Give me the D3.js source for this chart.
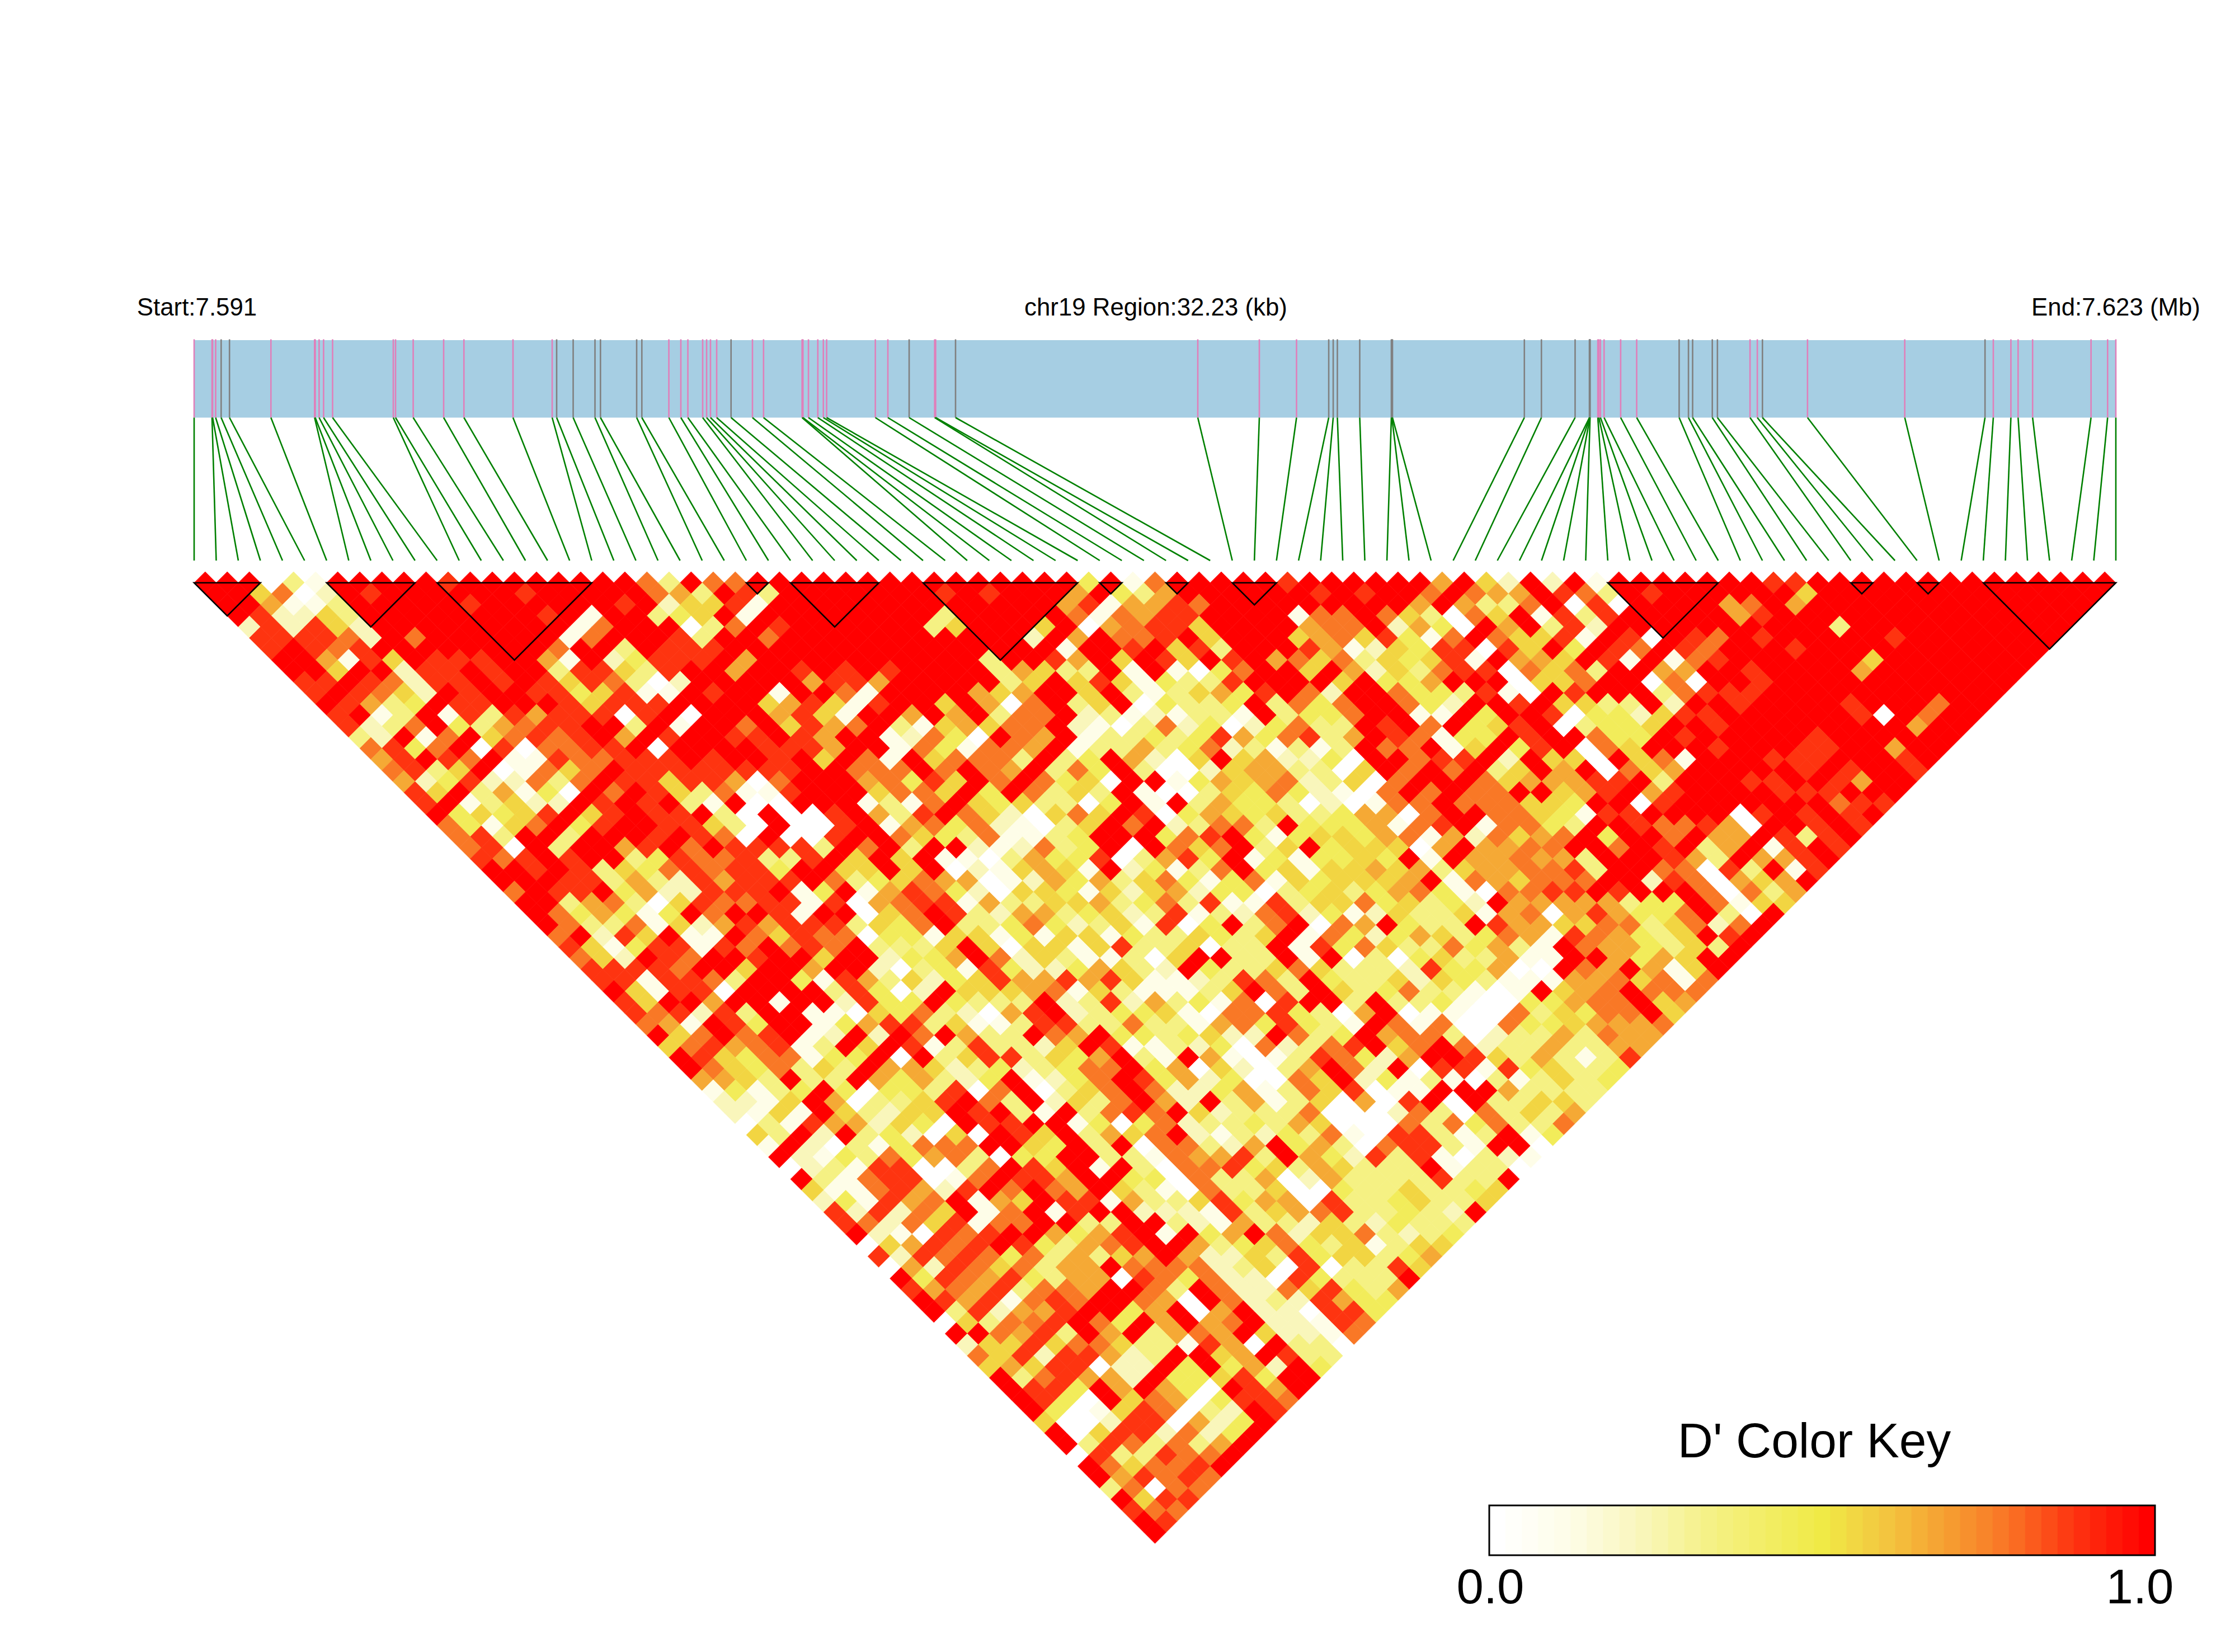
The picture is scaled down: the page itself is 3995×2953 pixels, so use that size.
<!DOCTYPE html>
<html><head><meta charset="utf-8">
<style>html,body{margin:0;padding:0;background:#fff}svg{display:block}text{font-family:"Liberation Sans",Arial,sans-serif;fill:#000}</style>
<script src="https://cdn.jsdelivr.net/npm/d3@7/dist/d3.min.js"></script>
</head><body><svg id="c" width="3995" height="2953"></svg>
<script>
// genomic offsets (kb) of the 88 markers
const markerKb=[0,.3,.31,.361,.453,.593,1.288,2.02,2.031,2.096,2.171,2.322,3.34,3.378,3.674,4.185,4.525,5.348,6.005,6.08,6.357,6.723,6.815,7.422,7.509,7.962,8.163,8.281,8.529,8.595,8.66,8.764,9.005,9.364,9.55,10.196,10.211,10.303,10.46,10.553,10.608,11.425,11.635,11.992,12.42,12.436,12.77,16.833,17.865,18.489,19.029,19.104,19.174,19.549,20.079,20.089,20.098,22.31,22.596,23.161,23.401,23.406,23.41,23.412,23.542,23.56,23.586,23.647,23.925,24.194,24.906,25.062,25.132,25.462,25.548,26.095,26.217,26.303,27.059,28.69,30.036,30.175,30.47,30.591,30.834,31.814,32.092,32.23];
const markerType="pppp"+"gg"+"ppppppppppppp"+"gggggg"+"ppppppp"+"g"+"pppppppppp"+"g"+"pp"+"g"+"ppp"+"gggggggggggggg"+"pppppp"+"ggggg"+"pp"+"g"+"pp"+"g"+"ppppppp";
// D' rows, by marker distance 1..87; digit = D' x 9
const ldRows=[
"9990319999 9899999999 7397799999 9999999999 4917999998 9999996952 9291999999 9889999999 9999999",
"9957029899 9999899999 7639839999 9998989996 9436999999 8989979766 9873989999 9959999999 999999",
"9961139999 9899999989 2558199999 9999999968 1668799999 9999696337 9080999967 9699999999 99999",
"9822539999 9999891993 4591999999 9939999971 7688999917 7975307591 8389999968 9999999999 9999",
"2828529999 9999917999 0379899999 9359995906 7885999967 7926409693 8299999999 9939999999 999",
"8888729799 9999179998 3997999999 9999929697 7895999567 5841797558 1980987989 9999899999 99",
"8987899999 9997993988 8999999999 9999991998 9583999861 2548808594 9879879998 9999999999 9",
"9961859888 9961924888 9699999999 9939986959 8598967573 5458196659 8191789999 9959999999",
"9959928898 9938853899 6998989899 9936533919 1047995962 5378807573 9966998999 969999999",
"8898728898 9858730299 9996886999 9935958514 3389999594 4699905579 9070998999 99999999",
"8987529899 8845811989 9199719999 6569959313 5648972997 4438109899 9378889999 9999999",
"9863498899 9858889999 5685189959 6079359043 3493747997 4299895533 9299899998 999799",
"8913918386 8880890999 6851996969 3779231213 3193447991 1949980442 5889999998 09799",
"8237943678 8993919979 5867931565 7792103724 0247339897 9458903445 9989999999 9699",
"3291795787 8969899889 8699127409 7691334348 6478369871 4498997449 8999998999 999",
"7847908077 8890999988 8699174177 6913363472 3131397791 5948907599 9899988996 99",
"6898791187 7888989989 5971957773 9349620595 6224099788 9295509571 9998889998 9",
"7835901757 9888888889 9777979769 3749300256 6330597979 3596907569 9999898998",
"6248227379 8858860799 9674859797 4509914656 7235079997 5666889399 988998699",
"8593614097 9853711899 9577594973 5391003547 4210797977 9956896899 99888999",
"8913522989 8931900999 1317954533 0491936443 0201779777 5549908999 9999788",
"9454589589 8893090089 6389752057 5980465453 3466079977 5418899990 898989",
"7415794899 8853090089 1674721035 9792377394 4461789177 4399877860 99898",
"7839939998 9870900899 7543711349 9947894145 5467162756 7949979669 8389",
"7809399689 7988883979 3992127349 0975793594 5550696677 9979893691 898",
"8789899348 7783389595 9110364480 3684914144 5491966766 3999863966 89",
"9989835478 7884995595 9021565192 4137945155 6563566778 3997708391 8",
"9998836328 6888973457 6601264635 7414715455 5691765777 9928706569",
"7988946228 8891491687 4205541525 6244034534 6741077889 899970736",
"9936730587 7881806788 1633556347 3811835574 5342966666 34497155",
"9746414979 9819905798 3266345238 1327824125 3351670686 4479309",
"9733715268 6888354793 3474235180 4937907694 3398665577 357279",
"7928591197 5877044155 1415514335 4359174246 5347618764 35989",
"8514881879 7879333595 0551583350 3391847533 7463197664 3539",
"7529879989 9599244697 2531130599 3391903045 3361199646 599",
"8888799599 6992034184 2246532943 3575333284 4600976961 59",
"8818873994 1863524586 6868511238 7394335254 3111667571 7",
"9518809999 3840295556 7153111359 7395347331 0195679777",
"8599699199 2844943339 2382634170 8993933410 044677956",
"8782839911 0547320689 2344510778 4306901100 73547795",
"7619849914 6883511388 3373316748 4319717007 4456667",
"9579789129 2979633976 9443452297 3496773023 363766",
"5786781395 9813833259 8113240723 7895797233 63366",
"9854771449 0935883546 9319610138 7426998536 3138",
"9754735396 6523423477 9460520369 7290881845 334",
"6653933964 6324912479 8462400759 2413103135 34",
"1413494044 3807903579 7224613758 0119996333 3",
"2215960335 8973925379 6293613506 0890933553",
"2151953255 9893193787 9523337000 273073536",
"0318662540 9889914047 2334365000 73747337",
"5392934205 0985936579 2132437108 8313914",
"1920314777 9954939077 3269463078 831990",
"9214374673 0449933176 6839642838 10321",
"0231880037 9859193077 8453653339 1330",
"9317880179 8869944073 3602633338 339",
"5117862897 9769531073 3500433533 45",
"2418679165 9881633584 6608334533 5",
"8282759179 1899222183 5678334329",
"8727581779 9339932163 325324333",
"9210878996 4689194697 25573234",
"0568789843 6789963457 4351355",
"8287874736 3569622538 455346",
"0628757366 9777723508 03385",
"9487684366 0874722084 3339",
"8676837769 9739722758 436",
"9868178799 7609723286 44",
"9382668994 6906922088 4",
"0537789749 6967922187",
"9976839693 676952217",
"2558577533 18603 30 9".replace(/ /g,"").slice(0,0)+"255857753318609330",
"75828862399569833",
"5658802294946294",
"937866294458499",
"98849696409869".slice(0,14),
"9840957604887",
"940158703298",
"50028806249",
"9058827249",
"938737369",
"08338779",
"9757789",
"968787",
"37077",
"9588",
"877",
"98",
"9"
].map(s=>s.replace(/ /g,""));
// LD blocks, first and last marker index
const blockStart=[0,6,11,25,27,33,41,44,47,64,75,78,81];
const blockEnd=[3,10,18,26,31,40,42,45,49,69,76,79,87];
const titleStart="Start:7.591",titleMid="chr19 Region:32.23 (kb)",titleEnd="End:7.623 (Mb)";
const keyTitle="D' Color Key",keyLow="0.0",keyHigh="1.0";

const svg=d3.select("#c");
const n=markerKb.length;
const idx=d3.scaleLinear().domain([0,n-1]).range([347,3782]);
const kb=d3.scaleLinear().domain([0,32.23]).range([347,3782]);
const row=d3.scaleLinear().domain([1,n-1]).range([1041.7,1041.7+(n-2)*19.74]);
const color=d3.scaleLinear()
 .domain([0,.11,.22,.33,.5,.6,.7,.78,.89,1])
 .range(["#ffffff","#fefde8","#f9f6bc","#f5f184","#f0ea46","#f3c53f","#f69b30","#f97726","#fe3310","#ff0000"]);

const cells=[];
ldRows.forEach((s,r)=>{const d=r+1;[...s].forEach((c,i)=>cells.push({i,d,v:+c/9}));});
svg.append("g").selectAll("path").data(cells).join("path")
 .attr("d",c=>{const m=c.i+c.d/2;
   return `M${idx(m-.5)},${row(c.d)}L${idx(m)},${row(c.d-1)}L${idx(m+.5)},${row(c.d)}L${idx(m)},${row(c.d+1)}Z`;})
 .attr("fill",c=>color(c.v)).attr("stroke",c=>color(c.v)).attr("stroke-width",.7);

// black block outlines
svg.append("g").selectAll("path").data(blockStart.map((a,k)=>[a,blockEnd[k]])).join("path")
 .attr("d",([a,b])=>`M${idx(a)},${row(1)}L${idx(b)},${row(1)}L${idx((a+b)/2)},${row(1+(b-a))}Z`)
 .attr("fill","none").attr("stroke","#000").attr("stroke-width",2.6);

// gene band and ticks
svg.append("rect").attr("x",kb(0)).attr("y",608).attr("width",kb(32.23)-kb(0)).attr("height",138.5).attr("fill","#a6cee3");
svg.append("g").selectAll("line").data(markerKb).join("line")
 .attr("x1",d=>kb(d)).attr("x2",d=>kb(d)).attr("y1",606.5).attr("y2",746.5)
 .attr("stroke",(d,i)=>markerType[i]==="p"?"#e07fba":"#808080").attr("stroke-width",2.6);
svg.append("g").selectAll("line").data(markerKb).join("line")
 .attr("x1",d=>kb(d)).attr("y1",746.5).attr("x2",(d,i)=>idx(i)).attr("y2",1002)
 .attr("stroke","#008000").attr("stroke-width",2.6);

// header text
[[titleStart,352],[titleMid,2066],[titleEnd,3782]].forEach(([t,x])=>
 svg.append("text").attr("x",x).attr("y",564).attr("text-anchor","middle").attr("font-size",43.8).text(t));

// colour key
const keyN=41,keyX=d3.scaleLinear().domain([0,keyN]).range([2662,3852]);
svg.append("g").selectAll("rect").data(d3.range(keyN)).join("rect")
 .attr("x",k=>keyX(k)).attr("y",2691).attr("width",k=>keyX(k+1)-keyX(k)+.5).attr("height",89)
 .attr("fill",k=>color(k/(keyN-1)));
svg.append("rect").attr("x",2662).attr("y",2691).attr("width",1190).attr("height",89).attr("fill","none").attr("stroke","#000").attr("stroke-width",3);
svg.append("text").attr("x",3243).attr("y",2605).attr("text-anchor","middle").attr("font-size",87.5).text(keyTitle);
svg.append("text").attr("x",2664).attr("y",2866).attr("text-anchor","middle").attr("font-size",87).text(keyLow);
svg.append("text").attr("x",3825).attr("y",2866).attr("text-anchor","middle").attr("font-size",87).text(keyHigh);
</script></body></html>
